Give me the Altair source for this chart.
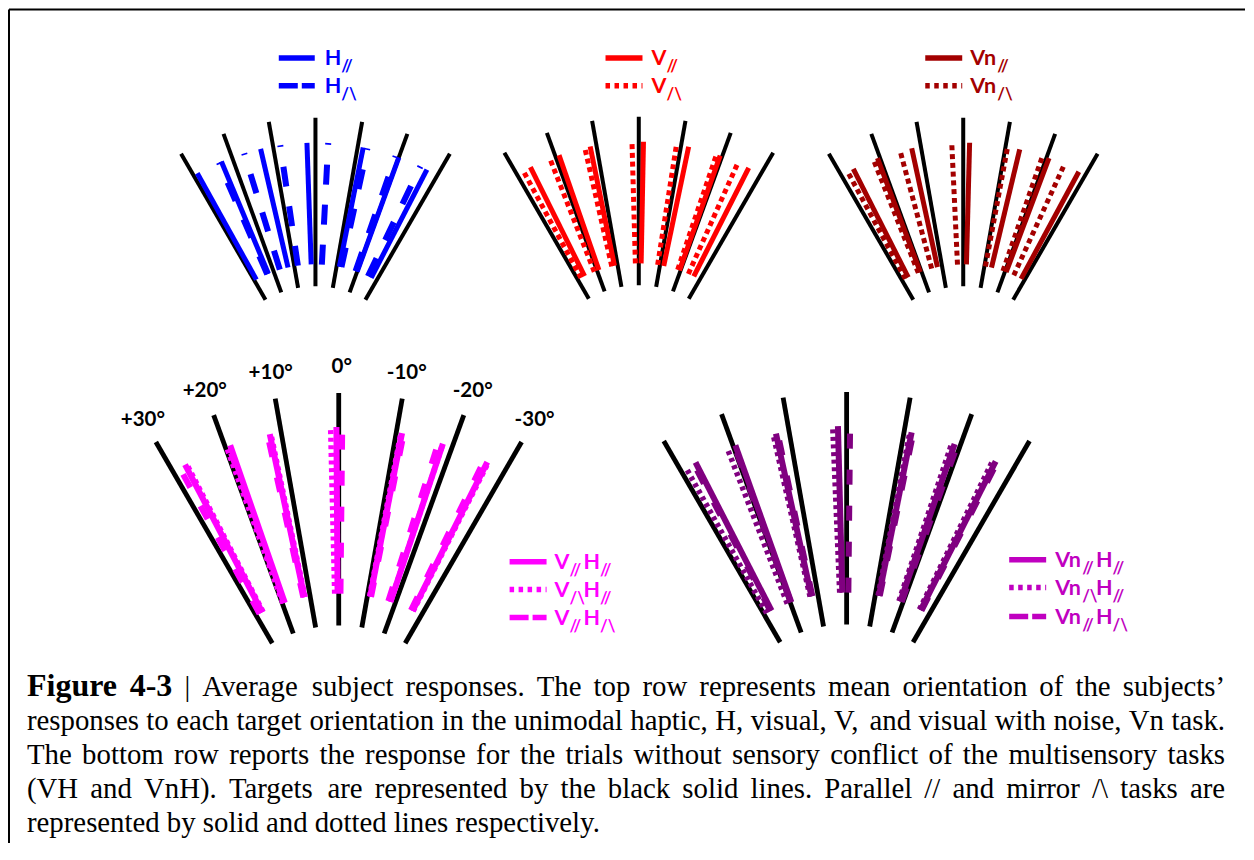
import math
import altair as alt
import pandas as pd

# ---------------- data (angles in degrees, + = tilted left) ----------------
targets = [30, 20, 10, 0, -10, -20, -30]
target_labels = ["+30°", "+20°", "+10°", "0°", "-10°", "-20°", "-30°"]

h_parallel = [29.0, 22.7, 13.0, 2.0, -11.3, -20.0, -27.2]
h_mirror = [23.3, 17.0, 8.3, -3.0, -12.3, -19.2, -25.5]
v_parallel = [26.4, 19.1, 11.5, -1.1, -11.8, -19.5, -26.8]
v_mirror = [28.3, 21.4, 12.8, 1.6, -8.9, -18.6, -24.0]
vn_parallel = [26.8, 20.6, 12.2, -1.5, -13.4, -20.6, -28.3]
vn_mirror = [28.3, 21.6, 15.0, 2.7, -10.5, -19.0, -24.5]
vh_par_par = [27.6, 19.1, 12.0, 0.4, -11.0, -18.3, -26.6]
vh_mir_par = [27.3, 19.8, 11.8, 1.4, -10.8, -18.3, -26.8]
vh_par_mir = [28.7, 19.4, 12.4, -0.6, -11.3, -17.5, -26.0]
vnh_par_par = [27.1, 19.6, 12.3, 1.5, -11.3, -19.0, -26.7]
vnh_mir_par = [29.0, 21.1, 12.8, 2.4, -11.0, -18.5, -26.2]
vnh_par_mir = [27.5, 19.8, 12.0, -0.6, -11.6, -19.5, -27.0]

caption_lines = [
    "Figure 4-3 | Average subject responses. The top row represents mean orientation of the subjects\u2019",
    "responses to each target orientation in the unimodal haptic, H, visual, V, and visual with noise, Vn task.",
    "The bottom row reports the response for the trials without sensory conflict of the multisensory tasks",
    "(VH and VnH). Targets are represented by the black solid lines. Parallel // and mirror /\\ tasks are",
    "represented by solid and dotted lines respectively.",
]
bold_words = ["Figure", "4-3"]

# ---------------- colours / styles ----------------
BLUE = "#0000FF"
RED = "#FF0000"
DARKRED = "#A30000"
MAGENTA = "#FF00FF"
PURPLE = "#800080"
PURPLE_LEG = "#C000C0"

# page geometry (pixels of the page, origin top-left)
W, H = 1238, 836
OX, OY = 8, 8
xs = alt.Scale(domain=[OX, OX + W], nice=False, zero=False)
ys = alt.Scale(domain=[OY, OY + H], nice=False, zero=False, reverse=True)

ROWS = {
    "top": dict(t_in=100, t_out=269, r_in=122, r_out=244, tw=4,
                styles={"solid": (5, None), "dash": (6, [20, 20]), "dot": (5, [5, 3.8])}),
    "bottom": dict(t_in=133, t_out=366, r_in=165, r_out=332, tw=4.8,
                   styles={"solid": (6, None), "dot": (5.5, [4, 3.6]), "dash": (6, [15, 21])}),
}

panels = [
    dict(row="top", cx=315.7, cy=386, series=[(h_parallel, BLUE, "solid"), (h_mirror, BLUE, "dash")]),
    dict(row="top", cx=639.3, cy=385, series=[(v_parallel, RED, "solid"), (v_mirror, RED, "dot")]),
    dict(row="top", cx=964.0, cy=386, series=[(vn_parallel, DARKRED, "solid"), (vn_mirror, DARKRED, "dot")]),
    dict(row="bottom", cx=339.0, cy=759, series=[(vh_par_par, MAGENTA, "solid"), (vh_mir_par, MAGENTA, "dot"),
                                                  (vh_par_mir, MAGENTA, "dash")]),
    dict(row="bottom", cx=847.3, cy=758, series=[(vnh_par_par, PURPLE, "solid"), (vnh_mir_par, PURPLE, "dot"),
                                                  (vnh_par_mir, PURPLE, "dash")]),
]


def polar(cx, cy, ang, r):
    a = math.radians(ang)
    return cx - r * math.sin(a), cy - r * math.cos(a)


def seg_df(cx, cy, angles, r0, r1):
    rows = []
    for a in angles:
        x0, y0 = polar(cx, cy, a, r0)
        x1, y1 = polar(cx, cy, a, r1)
        rows.append(dict(x=x0, y=y0, x2=x1, y2=y1))
    return pd.DataFrame(rows)


def rule_layer(df, color, width, dash=None):
    kw = dict(color=color, strokeWidth=width, strokeCap="butt")
    if dash:
        kw["strokeDash"] = dash
    return alt.Chart(df).mark_rule(**kw).encode(
        x=alt.X("x:Q", scale=xs, axis=None),
        y=alt.Y("y:Q", scale=ys, axis=None),
        x2="x2:Q", y2="y2:Q")


def text_layer(df, size, font, weight="normal", align="left", baseline="alphabetic"):
    return alt.Chart(df).mark_text(fontSize=size, font=font, fontWeight=weight,
                                   align=align, baseline=baseline).encode(
        x=alt.X("x:Q", scale=xs, axis=None),
        y=alt.Y("y:Q", scale=ys, axis=None),
        text="t:N",
        color=alt.Color("c:N", scale=None))


layers = []

# frame
layers.append(rule_layer(pd.DataFrame([dict(x=9, y=8.5, x2=OX + W, y2=8.5),
                                       dict(x=9, y=8.5, x2=9, y2=OY + H)]), "black", 2))

# targets then responses
for p in panels:
    g = ROWS[p["row"]]
    layers.append(rule_layer(seg_df(p["cx"], p["cy"], targets, g["t_in"], g["t_out"]), "black", g["tw"]))
for p in panels:
    g = ROWS[p["row"]]
    for vals, col, st in p["series"]:
        w, d = g["styles"][st]
        layers.append(rule_layer(seg_df(p["cx"], p["cy"], vals, g["r_in"], g["r_out"]), col, w, d))

# degree labels (bottom-left panel)
lp = panels[3]
lab = []
for a, t in zip(targets, target_labels):
    x, y = polar(lp["cx"], lp["cy"], a, 392)
    lab.append(dict(x=x + (3 if a == 0 else 0), y=y, t=t, c="black"))
layers.append(text_layer(pd.DataFrame(lab), 20.5, "Lato", "bold", "center", "middle"))

# legends
MAIN_W = {"H": 16.5, "V": 15.0, "Vn": 27.0}
SUB_W = 14.0
legends = [
    dict(x0=279, x1=315, tx=325, ys=[57, 85], col=BLUE,
         items=[("solid", [("H", "//")]), ("dashL", [("H", "/\\")])]),
    dict(x0=606, x1=643, tx=652, ys=[57, 85], col=RED,
         items=[("solid", [("V", "//")]), ("dotL", [("V", "/\\")])]),
    dict(x0=926, x1=963, tx=971, ys=[57, 85], col=DARKRED,
         items=[("solid", [("Vn", "//")]), ("dotL", [("Vn", "/\\")])]),
    dict(x0=510, x1=547, tx=555, ys=[562, 590, 618], col=MAGENTA,
         items=[("solid", [("V", "//"), ("H", "//")]), ("dotL", [("V", "/\\"), ("H", "//")]),
                ("dashL", [("V", "//"), ("H", "/\\")])]),
    dict(x0=1010, x1=1047, tx=1056, ys=[560, 588, 617], col=PURPLE_LEG,
         items=[("solid", [("Vn", "//"), ("H", "//")]), ("dotL", [("Vn", "/\\"), ("H", "//")]),
                ("dashL", [("Vn", "//"), ("H", "/\\")])]),
]
LEG_STYLE = {"solid": (5.5, None), "dotL": (5.5, [4.5, 4.5]), "dashL": (5.5, [19, 4])}
main_txt, sub_txt = [], []
for lg in legends:
    for yy, (st, parts) in zip(lg["ys"], lg["items"]):
        w, d = LEG_STYLE[st]
        layers.append(rule_layer(pd.DataFrame([dict(x=lg["x0"], y=yy, x2=lg["x1"], y2=yy)]), lg["col"], w, d))
        x = lg["tx"]
        for m, s in parts:
            main_txt.append(dict(x=x, y=yy + 7, t=m, c=lg["col"]))
            x += MAIN_W[m]
            sub_txt.append(dict(x=x, y=yy + 14, t=s, c=lg["col"]))
            x += SUB_W
layers.append(text_layer(pd.DataFrame(main_txt), 21.5, "Lato", "bold"))
layers.append(text_layer(pd.DataFrame(sub_txt), 16.5, "Lato", "bold"))

# caption, justified using Times metrics
REG = {" ": 250, ",": 250, ".": 250, "-": 333, "/": 278, "\\": 278, "|": 200, "(": 333, ")": 333,
       "\u2019": 333, "'": 180,
       "A": 722, "B": 667, "C": 667, "D": 722, "E": 611, "F": 556, "G": 722, "H": 722, "I": 333,
       "J": 389, "K": 722, "L": 611, "M": 889, "N": 722, "O": 722, "P": 556, "Q": 722, "R": 667,
       "S": 556, "T": 611, "U": 722, "V": 722, "W": 944, "X": 722, "Y": 722, "Z": 611,
       "a": 444, "b": 500, "c": 444, "d": 500, "e": 444, "f": 333, "g": 500, "h": 500, "i": 278,
       "j": 278, "k": 500, "l": 278, "m": 778, "n": 500, "o": 500, "p": 500, "q": 500, "r": 333,
       "s": 389, "t": 278, "u": 500, "v": 500, "w": 722, "x": 500, "y": 500, "z": 444}
BOLD = {"F": 611, "i": 278, "g": 500, "u": 556, "r": 444, "e": 444, "4": 500, "-": 333, "3": 500}
CAP_SIZE = 28.8
BOLD_SIZE = 32
CAP_L, CAP_R = 27, 1226


def width_of(word, bold):
    tab = BOLD if bold else REG
    size = BOLD_SIZE if bold else CAP_SIZE
    return sum(tab.get(ch, 500) for ch in word) * size / 1000.0


reg_words, bold_rows = [], []
for i, line in enumerate(caption_lines):
    words = line.split(" ")
    flags = [(i == 0 and w in bold_words) for w in words]
    widths = [width_of(w, b) for w, b in zip(words, flags)]
    if i < len(caption_lines) - 1:
        gap = (CAP_R - CAP_L - sum(widths)) / (len(words) - 1)
    else:
        gap = 250 * CAP_SIZE / 1000.0
    x = CAP_L
    yb = 697 + 34 * i
    for w, b, wd in zip(words, flags, widths):
        (bold_rows if b else reg_words).append(dict(x=x, y=yb, t=w, c="black"))
        x += wd + gap
layers.append(text_layer(pd.DataFrame(reg_words), CAP_SIZE, "Liberation Serif"))
layers.append(text_layer(pd.DataFrame(bold_rows), BOLD_SIZE, "Liberation Serif", "bold"))

chart = alt.layer(*layers).properties(
    width=W, height=H, padding=0, background="white",
    autosize=alt.AutoSizeParams(type="fit", contains="padding"),
).configure_view(stroke=None)

chart.save("out.html", embed_options={"renderer": "svg", "actions": False})
